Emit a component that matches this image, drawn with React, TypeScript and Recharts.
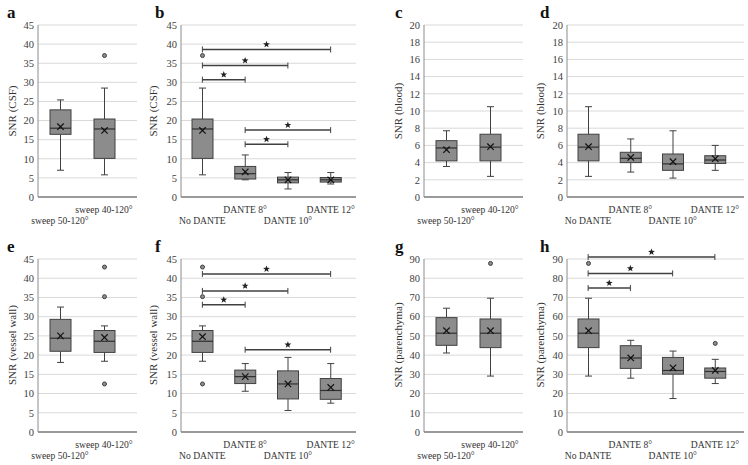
import React from 'react';
import { ComposedChart, Bar, XAxis, YAxis, CartesianGrid, ReferenceLine } from 'recharts';

const FONT = '"Liberation Serif", "Times New Roman", "DejaVu Serif", serif';

const sweepCats = ['sweep 50-120°', 'sweep 40-120°'];
const danteCats = ['No DANTE', 'DANTE 8°', 'DANTE 10°', 'DANTE 12°'];

// each box: [low whisker, Q1, median, Q3, high whisker, mean]
const csfSweep = [
  [7.0, 16.4, 18.0, 22.8, 25.4, 18.4],
  [5.8, 10.1, 17.8, 20.4, 28.5, 17.4],
];
const csfSweepOut = [[], [37]];
const csfDante = [
  [5.8, 10.1, 17.8, 20.4, 28.5, 17.4],
  [4.5, 4.7, 6.1, 8.0, 11.0, 6.6],
  [2.1, 3.7, 4.5, 5.2, 6.4, 4.5],
  [3.4, 3.9, 4.5, 5.1, 6.4, 4.5],
];
const csfDanteOut = [[37], [], [], []];
// significance bars: [from category, to category, y value]
const csfDanteSig = [[0, 3, 38.6], [0, 2, 34.4], [0, 1, 30.7], [1, 3, 17.5], [1, 2, 13.8]];

const bloodSweep = [
  [3.55, 4.2, 5.7, 6.55, 7.7, 5.5],
  [2.4, 4.2, 5.8, 7.3, 10.5, 5.85],
];
const bloodSweepOut = [[], []];
const bloodDante = [
  [2.4, 4.2, 5.8, 7.3, 10.5, 5.85],
  [2.9, 4.0, 4.5, 5.2, 6.75, 4.6],
  [2.2, 3.1, 3.85, 5.0, 7.7, 4.1],
  [3.1, 3.9, 4.3, 4.8, 6.0, 4.45],
];
const bloodDanteOut = [[], [], [], []];

const vesselSweep = [
  [18.1, 21.0, 24.4, 29.3, 32.5, 25.0],
  [18.4, 20.7, 23.6, 26.4, 27.6, 24.6],
];
const vesselSweepOut = [[], [42.9, 35.2, 12.5]];
const vesselDante = [
  [18.4, 20.7, 23.6, 26.4, 27.6, 24.8],
  [10.6, 12.6, 14.4, 16.1, 17.8, 14.4],
  [5.6, 8.6, 12.5, 15.9, 19.4, 12.5],
  [7.5, 8.5, 10.8, 13.9, 17.8, 11.6],
];
const vesselDanteOut = [[42.9, 35.2, 12.5], [], [], []];
const vesselDanteSig = [[0, 3, 41.1], [0, 2, 36.7], [0, 1, 33.1], [1, 3, 21.4]];

const parSweep = [
  [41.1, 45.1, 51.4, 59.5, 64.4, 52.7],
  [29.1, 43.9, 51.4, 58.8, 69.6, 52.7],
];
const parSweepOut = [[], [87.7]];
const parDante = [
  [29.1, 43.9, 51.4, 58.8, 69.6, 52.7],
  [28.0, 33.1, 38.5, 44.9, 47.7, 38.5],
  [17.4, 30.1, 32.0, 38.8, 42.1, 33.4],
  [25.2, 28.0, 31.5, 33.3, 37.8, 32.0],
];
const parDanteOut = [[87.7], [], [], [46.1]];
const parDanteSig = [[0, 3, 91.0], [0, 2, 82.5], [0, 1, 74.9]];

const csfTicks = [0, 5, 10, 15, 20, 25, 30, 35, 40, 45];
const bloodTicks = [0, 2, 4, 6, 8, 10, 12, 14, 16, 18, 20];
const parTicks = [0, 10, 20, 30, 40, 50, 60, 70, 80, 90];

function buildRows(cats: string[], stats: number[][], outs: number[][]) {
  return cats.map((c, i) => ({
    cat: c,
    range: [stats[i][0], stats[i][4]],
    low: stats[i][0],
    q1: stats[i][1],
    med: stats[i][2],
    q3: stats[i][3],
    high: stats[i][4],
    mean: stats[i][5],
    out: outs[i],
  }));
}

const STROKE = '#404040';

function BoxShape(props: any) {
  const { x, y, width, height, payload } = props;
  if (x == null || y == null || !payload) return null;
  const top = Math.min(y, y + height);
  const h = Math.abs(height);
  const span = payload.high - payload.low;
  const py = (v: number) => top + (h * (payload.high - v)) / span;
  const cx = x + width / 2;
  const cap = 3.5;
  const m = 3.2;
  return (
    <g>
      <line x1={cx} x2={cx} y1={py(payload.high)} y2={py(payload.q3)} stroke={STROKE} strokeWidth={1} />
      <line x1={cx} x2={cx} y1={py(payload.q1)} y2={py(payload.low)} stroke={STROKE} strokeWidth={1} />
      <line x1={cx - cap} x2={cx + cap} y1={py(payload.high)} y2={py(payload.high)} stroke={STROKE} strokeWidth={1} />
      <line x1={cx - cap} x2={cx + cap} y1={py(payload.low)} y2={py(payload.low)} stroke={STROKE} strokeWidth={1} />
      <rect x={x} y={py(payload.q3)} width={width} height={py(payload.q1) - py(payload.q3)} fill="#8c8c8c" stroke={STROKE} strokeWidth={1} />
      <line x1={x} x2={x + width} y1={py(payload.med)} y2={py(payload.med)} stroke="#303030" strokeWidth={1.2} />
      <line x1={cx - m} x2={cx + m} y1={py(payload.mean) - m} y2={py(payload.mean) + m} stroke="#111" strokeWidth={1.2} />
      <line x1={cx - m} x2={cx + m} y1={py(payload.mean) + m} y2={py(payload.mean) - m} stroke="#111" strokeWidth={1.2} />
      {payload.out.map((v: number, i: number) => (
        <circle key={i} cx={cx} cy={py(v)} r={2} fill="#8c8c8c" stroke={STROKE} strokeWidth={1} />
      ))}
    </g>
  );
}

function starPath(cx: number, cy: number, R: number, r: number) {
  const pts: string[] = [];
  for (let k = 0; k < 10; k++) {
    const rad = k % 2 === 0 ? R : r;
    const a = -Math.PI / 2 + (k * Math.PI) / 5;
    pts.push(`${(cx + rad * Math.cos(a)).toFixed(2)},${(cy + rad * Math.sin(a)).toFixed(2)}`);
  }
  return `M${pts.join('L')}Z`;
}

function SigShape(props: any) {
  const { x1, y1, x2 } = props;
  if (x1 == null || y1 == null || x2 == null) return null;
  const mid = (x1 + x2) / 2;
  return (
    <g>
      <line x1={x1} x2={x2} y1={y1} y2={y1} stroke={STROKE} strokeWidth={1.5} />
      <line x1={x1} x2={x1} y1={y1 - 3} y2={y1 + 3} stroke={STROKE} strokeWidth={1} />
      <line x1={x2} x2={x2} y1={y1 - 3} y2={y1 + 3} stroke={STROKE} strokeWidth={1} />
      <path d={starPath(mid, y1 - 5, 3.6, 1.5)} fill="#222" />
    </g>
  );
}

type PanelProps = {
  left: number;
  top: number;
  w: number;
  h: number;
  padRight: number;
  cats: string[];
  stats: number[][];
  outs: number[][];
  ticks: number[];
  sig?: number[][];
};

function Panel({ left, top, w, h, padRight, cats, stats, outs, ticks, sig = [] }: PanelProps) {
  const ML = 36;
  const MT = 15;
  const MB = 35;
  const MR = 4;
  const rows = buildRows(cats, stats, outs);
  const base = MT + h;
  const XTick = (p: any) => (
    <text
      x={p.x}
      y={base + (p.index % 2 === 1 ? 16 : 27)}
      textAnchor="middle"
      fontSize={9.6}
      style={{ fontFamily: FONT }}
      fill="#333"
    >
      {p.payload.value}
    </text>
  );
  const YTick = (p: any) => (
    <text x={p.x} y={p.y} dy="0.355em" textAnchor="end" fontSize={10.5} style={{ fontFamily: FONT }} fill="#404040">
      {p.payload.value}
    </text>
  );
  return (
    <div style={{ position: 'absolute', left: left - ML, top: top - MT }}>
      <ComposedChart
        width={w + ML + MR}
        height={h + MT + MB}
        data={rows}
        margin={{ top: MT, right: MR, bottom: 0, left: 0 }}
        style={{ overflow: 'visible' }}
      >
        <CartesianGrid vertical={false} stroke="#d9d9d9" />
        <XAxis
          dataKey="cat"
          type="category"
          height={MB}
          axisLine={{ stroke: '#7f7f7f', strokeWidth: 1.3 }}
          tickLine={false}
          padding={{ left: 0, right: padRight }}
          interval={0}
          tick={XTick}
        />
        <YAxis
          type="number"
          domain={[0, ticks[ticks.length - 1]]}
          ticks={ticks}
          width={ML}
          interval={0}
          axisLine={{ stroke: '#8c8c8c' }}
          tickLine={false}
          tickSize={0}
          tickMargin={4}
          tick={YTick}
        />
        <Bar dataKey="range" barSize={21} shape={BoxShape} isAnimationActive={false} />
        {sig.map((s, i) => (
          <ReferenceLine
            key={i}
            segment={[{ x: cats[s[0]], y: s[2] }, { x: cats[s[1]], y: s[2] }]}
            ifOverflow="visible"
            shape={SigShape}
          />
        ))}
      </ComposedChart>
    </div>
  );
}

const letterStyle = { fontFamily: FONT, fontWeight: 700, fontSize: 17, fill: '#111' } as const;
const labelStyle = { fontFamily: FONT, fontSize: 11, fill: '#333' } as const;

export default function App() {
  const topY = 25;
  const topH = 172;
  const botY = 259;
  const botH = 173;
  return (
    <div style={{ position: 'absolute', left: 0, top: 0, width: 748, height: 465, background: '#fff', fontFamily: FONT }}>
      <Panel left={38} top={topY} w={99} h={topH} padRight={11} cats={sweepCats} stats={csfSweep} outs={csfSweepOut} ticks={csfTicks} />
      <Panel left={181} top={topY} w={175} h={topH} padRight={4} cats={danteCats} stats={csfDante} outs={csfDanteOut} ticks={csfTicks} sig={csfDanteSig} />
      <Panel left={424} top={topY} w={99} h={topH} padRight={11} cats={sweepCats} stats={bloodSweep} outs={bloodSweepOut} ticks={bloodTicks} />
      <Panel left={567} top={topY} w={177} h={topH} padRight={8} cats={danteCats} stats={bloodDante} outs={bloodDanteOut} ticks={bloodTicks} />
      <Panel left={38} top={botY} w={99} h={botH} padRight={11} cats={sweepCats} stats={vesselSweep} outs={vesselSweepOut} ticks={csfTicks} />
      <Panel left={181} top={botY} w={175} h={botH} padRight={4} cats={danteCats} stats={vesselDante} outs={vesselDanteOut} ticks={csfTicks} sig={vesselDanteSig} />
      <Panel left={424} top={botY} w={99} h={botH} padRight={11} cats={sweepCats} stats={parSweep} outs={parSweepOut} ticks={parTicks} />
      <Panel left={567} top={botY} w={177} h={botH} padRight={8} cats={danteCats} stats={parDante} outs={parDanteOut} ticks={parTicks} sig={parDanteSig} />
      <svg width={748} height={465} style={{ position: 'absolute', left: 0, top: 0, pointerEvents: 'none' }}>
        <text x={7} y={18} style={letterStyle}>a</text>
        <text x={155} y={18} style={letterStyle}>b</text>
        <text x={395} y={18} style={letterStyle}>c</text>
        <text x={540} y={18} style={letterStyle}>d</text>
        <text x={7} y={252} style={letterStyle}>e</text>
        <text x={155} y={252} style={letterStyle}>f</text>
        <text x={395} y={252} style={letterStyle}>g</text>
        <text x={540} y={252} style={letterStyle}>h</text>
        <text transform="translate(16,111) rotate(-90)" textAnchor="middle" style={labelStyle}>SNR (CSF)</text>
        <text transform="translate(157,111) rotate(-90)" textAnchor="middle" style={labelStyle}>SNR (CSF)</text>
        <text transform="translate(402,111) rotate(-90)" textAnchor="middle" style={labelStyle}>SNR (blood)</text>
        <text transform="translate(544,111) rotate(-90)" textAnchor="middle" style={labelStyle}>SNR (blood)</text>
        <text transform="translate(16,345) rotate(-90)" textAnchor="middle" style={labelStyle}>SNR (vessel wall)</text>
        <text transform="translate(157,345) rotate(-90)" textAnchor="middle" style={labelStyle}>SNR (vessel wall)</text>
        <text transform="translate(402,345) rotate(-90)" textAnchor="middle" style={labelStyle}>SNR (parenchyma)</text>
        <text transform="translate(544,345) rotate(-90)" textAnchor="middle" style={labelStyle}>SNR (parenchyma)</text>
      </svg>
    </div>
  );
}
